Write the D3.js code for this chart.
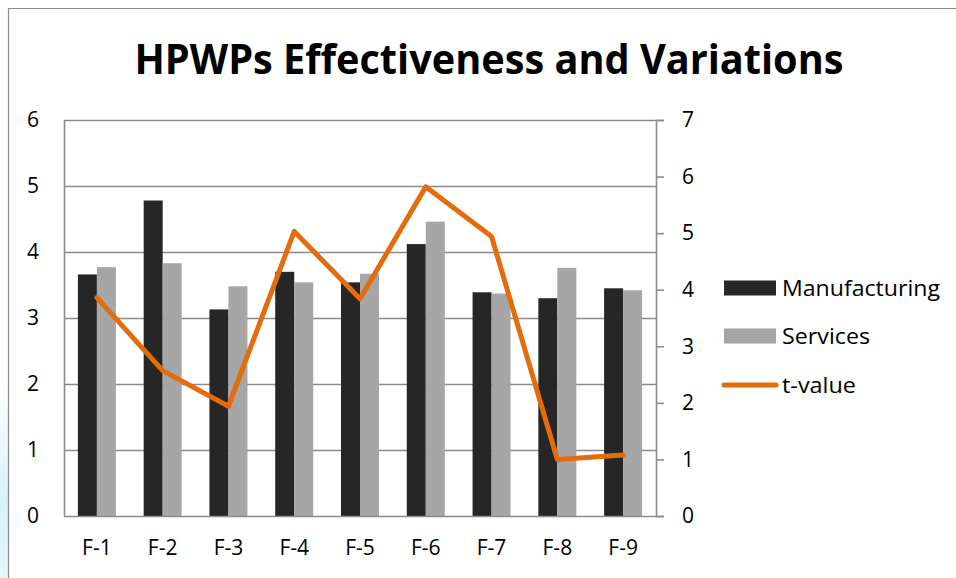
<!DOCTYPE html>
<html><head><meta charset="utf-8">
<script src="https://cdn.jsdelivr.net/npm/d3@7/dist/d3.min.js"></script>
<style>
html,body{margin:0;padding:0;background:#fff;}
svg{display:block;font-family:"Open Sans",Calibri,sans-serif;}
</style></head>
<body>
<svg id="chart" width="956" height="578"></svg>
<script>
const categories = ["F-1","F-2","F-3","F-4","F-5","F-6","F-7","F-8","F-9"];
const manufacturing = [3.66,4.78,3.13,3.70,3.54,4.12,3.39,3.30,3.45];
const services = [3.77,3.83,3.48,3.54,3.67,4.46,3.37,3.76,3.42];
const tValue = [3.86,2.57,1.94,5.03,3.84,5.82,4.94,1.00,1.08];
const leftTicks = [0,1,2,3,4,5,6];
const rightTicks = [0,1,2,3,4,5,6,7];
const seriesNames = ["Manufacturing","Services","t-value"];
const title = "HPWPs Effectiveness and Variations";

const svg = d3.select("#chart");
const plot = {left:64, right:656, top:120, bottom:516};

// background artifact at left edge
const defs = svg.append("defs");
const g1 = defs.append("linearGradient").attr("id","bg").attr("x1",0).attr("y1",0).attr("x2",0).attr("y2",1);
g1.append("stop").attr("offset","0%").attr("stop-color","#ffffff");
g1.append("stop").attr("offset","60%").attr("stop-color","#d6f3f8");
g1.append("stop").attr("offset","100%").attr("stop-color","#e4f7fa");
svg.append("rect").attr("x",0).attr("y",380).attr("width",8).attr("height",198).attr("fill","url(#bg)");

// outer chart border
svg.append("path").attr("d","M8.5,600 V8.5 H960").attr("fill","none").attr("stroke","#8c8c8c").attr("stroke-width",1.2);

// title
svg.append("text").attr("x",489).attr("y",74).attr("text-anchor","middle")
  .attr("font-size",41).attr("font-weight","bold").attr("fill","#000")
  .attr("textLength",709).attr("lengthAdjust","spacingAndGlyphs").text(title);

const x = d3.scaleBand().domain(categories).range([plot.left, plot.right]);
const xs = d3.scaleBand().domain(["m","s"]).range([0, 38]);
const yL = d3.scaleLinear().domain([0,6]).range([plot.bottom, plot.top]);
const yR = d3.scaleLinear().domain([0,7]).range([plot.bottom, plot.top]);

// gridlines
svg.append("g").selectAll("line").data(leftTicks.filter(d=>d>0)).join("line")
  .attr("x1",plot.left).attr("x2",plot.right)
  .attr("y1",d=>yL(d)+0.5).attr("y2",d=>yL(d)+0.5)
  .attr("stroke","#8c8c8c").attr("stroke-width",1.6);

// bars
const groups = svg.append("g").selectAll("g").data(categories).join("g")
  .attr("transform",d=>`translate(${x(d)+x.bandwidth()/2-19},0)`);
groups.append("rect").attr("x",xs("m")).attr("width",xs.bandwidth())
  .attr("y",(d,i)=>yL(manufacturing[i])).attr("height",(d,i)=>yL(0)-yL(manufacturing[i]))
  .attr("fill","#262626");
groups.append("rect").attr("x",xs("s")).attr("width",xs.bandwidth())
  .attr("y",(d,i)=>yL(services[i])).attr("height",(d,i)=>yL(0)-yL(services[i]))
  .attr("fill","#a6a6a6");

// axes lines
svg.append("line").attr("x1",plot.left+0.5).attr("x2",plot.left+0.5).attr("y1",plot.top).attr("y2",plot.bottom)
  .attr("stroke","#8c8c8c").attr("stroke-width",1.6);
svg.append("line").attr("x1",plot.left).attr("x2",plot.right).attr("y1",plot.bottom+0.5).attr("y2",plot.bottom+0.5)
  .attr("stroke","#8c8c8c").attr("stroke-width",1.6);

// right axis
const rAxis = svg.append("g").attr("transform",`translate(${plot.right},0)`)
  .call(d3.axisRight(yR).tickValues(rightTicks).tickSize(8).tickPadding(24).tickFormat(d3.format("d")));
rAxis.select(".domain").attr("stroke","#8c8c8c").attr("stroke-width",1.6);
rAxis.selectAll(".tick line").attr("stroke","#8c8c8c").attr("stroke-width",1.6);
rAxis.selectAll("text").attr("font-size",21).attr("fill","#000").attr("font-family","Open Sans, sans-serif")
  .attr("text-anchor","middle").attr("x",32);

// left axis labels
const lAxis = svg.append("g").attr("transform",`translate(${plot.left},0)`)
  .call(d3.axisLeft(yL).tickValues(leftTicks).tickSize(0).tickPadding(24).tickFormat(d3.format("d")));
lAxis.select(".domain").remove();
lAxis.selectAll("text").attr("font-size",21).attr("fill","#000").attr("font-family","Open Sans, sans-serif")
  .attr("text-anchor","middle").attr("x",-31);

// bottom axis labels
const bAxis = svg.append("g").attr("transform",`translate(0,${plot.bottom})`)
  .call(d3.axisBottom(x).tickSize(0).tickPadding(24));
bAxis.select(".domain").remove();
bAxis.selectAll("text").attr("font-size",21).attr("fill","#000").attr("font-family","Open Sans, sans-serif");

// t-value line
const line = d3.line().x((d,i)=>x(categories[i])+x.bandwidth()/2).y(d=>yR(d));
svg.append("path").datum(tValue).attr("d",line).attr("fill","none")
  .attr("stroke","#e46c0a").attr("stroke-width",5).attr("stroke-linejoin","round").attr("stroke-linecap","round");

// legend
const leg = svg.append("g");
const legY = [288, 336, 385];
leg.append("rect").attr("x",724).attr("y",legY[0]-7.5).attr("width",52).attr("height",15).attr("fill","#262626");
leg.append("rect").attr("x",724).attr("y",legY[1]-7.5).attr("width",52).attr("height",15).attr("fill","#a6a6a6");
leg.append("line").attr("x1",724).attr("x2",776).attr("y1",legY[2]).attr("y2",legY[2])
  .attr("stroke","#e46c0a").attr("stroke-width",5).attr("stroke-linecap","round");
const legW = [158, 88, 74];
leg.selectAll("text").data(seriesNames).join("text")
  .attr("x",782).attr("y",(d,i)=>legY[i]).attr("dy","0.35em")
  .attr("font-size",22).attr("fill","#000")
  .attr("textLength",(d,i)=>legW[i]).attr("lengthAdjust","spacingAndGlyphs")
  .text(d=>d);
</script>
</body></html>
